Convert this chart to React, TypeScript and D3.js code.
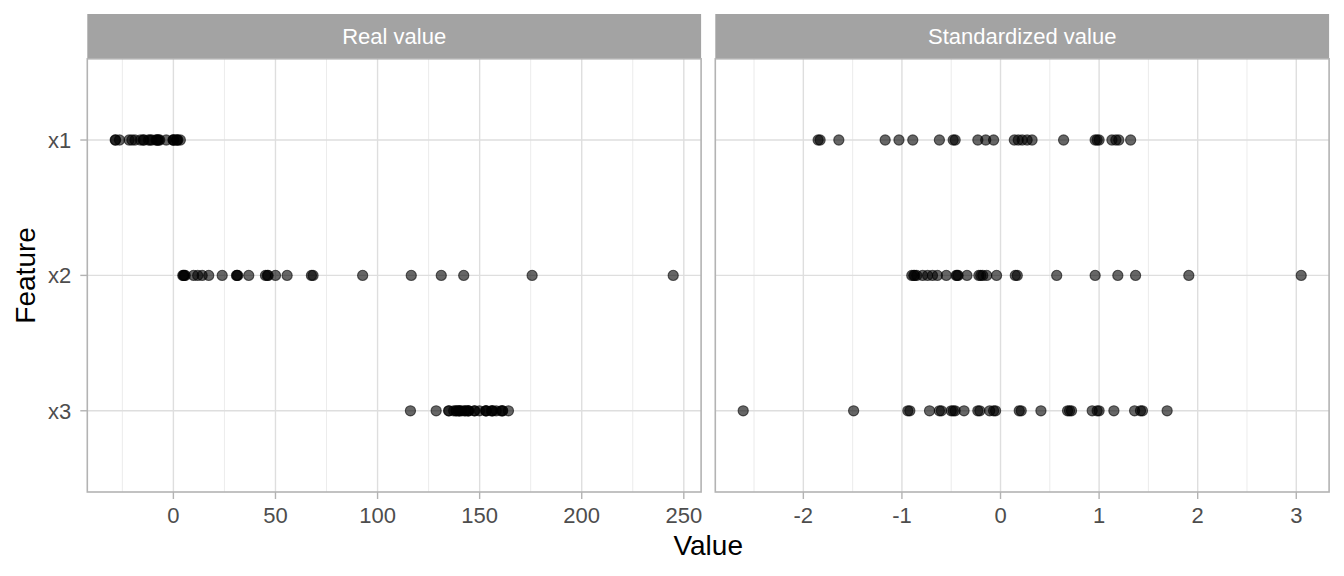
import React from "react";
import * as d3 from "d3";

const features = ["x1", "x2", "x3"];
const panels = ["Real value", "Standardized value"];

const realX1 = [-28.5, -28.3, -26.4, -21.7, -20.3, -18.8, -16.1, -14.7, -14.5, -12.2, -11.4, -10.6, -8.5, -8.1, -7.7, -7.2, -6.7, -3.5, -0.2, 0.0, 0.2, 1.5, 1.9, 2.2, 3.4];
const realX2 = [4.6, 5.0, 5.3, 5.8, 9.9, 11.9, 14.1, 17.3, 23.9, 30.9, 31.2, 31.5, 36.9, 45.1, 46.0, 46.4, 50.0, 55.7, 67.6, 68.4, 92.7, 116.5, 131.2, 142.2, 175.7, 244.8];
const realX3 = [116.1, 128.7, 134.8, 135.0, 137.3, 138.4, 138.6, 139.7, 140.0, 140.2, 141.2, 142.7, 142.9, 144.1, 144.5, 144.7, 147.4, 147.6, 149.9, 152.9, 153.1, 153.3, 155.7, 156.2, 156.4, 158.1, 160.5, 161.1, 161.3, 164.1];

const stdX1 = [-1.85, -1.83, -1.64, -1.17, -1.03, -0.89, -0.62, -0.48, -0.46, -0.23, -0.15, -0.07, 0.14, 0.18, 0.22, 0.27, 0.32, 0.64, 0.96, 0.98, 1.0, 1.13, 1.17, 1.2, 1.32];
const stdX2 = [-0.9, -0.88, -0.87, -0.85, -0.79, -0.74, -0.69, -0.64, -0.55, -0.45, -0.44, -0.43, -0.34, -0.22, -0.2, -0.18, -0.14, -0.04, 0.15, 0.17, 0.57, 0.96, 1.19, 1.37, 1.91, 3.05];
const stdX3 = [-2.61, -1.49, -0.94, -0.92, -0.72, -0.62, -0.6, -0.5, -0.48, -0.46, -0.37, -0.23, -0.21, -0.11, -0.07, -0.05, 0.19, 0.21, 0.41, 0.68, 0.7, 0.72, 0.93, 0.98, 1.0, 1.15, 1.36, 1.42, 1.44, 1.69];

const realTicks = [0, 50, 100, 150, 200, 250];
const stdTicks = [-2, -1, 0, 1, 2, 3];

const W = 1344;
const H = 576;
const panelLeft = [87.3, 715.3];
const panelW = 613.8;
const stripTop = 14;
const panelTop = 58.8;
const panelBottom = 492;
const font = "'Liberation Sans', Arial, sans-serif";

function buildPanel(values: number[][], ticks: number[], idx: number) {
  const all = values.flat();
  const [mn, mx] = d3.extent(all) as [number, number];
  const pad = (mx - mn) * 0.05;
  const x = d3.scaleLinear().domain([mn - pad, mx + pad]).range([panelLeft[idx], panelLeft[idx] + panelW]);
  const step = ticks[1] - ticks[0];
  const minor: number[] = [];
  for (let i = -1; i < ticks.length; i++) {
    const m = (i >= 0 ? ticks[i] : ticks[0] - step) + step / 2;
    if (m > x.domain()[0] && m < x.domain()[1]) minor.push(m);
  }
  return { x, minor };
}

export default function App() {
  const y = d3.scalePoint<string>().domain(features).range([panelTop, panelBottom]).padding(0.6);
  const realSets = [realX1, realX2, realX3];
  const stdSets = [stdX1, stdX2, stdX3];
  const specs = [
    { title: panels[0], sets: realSets, ticks: realTicks, ...buildPanel(realSets, realTicks, 0) },
    { title: panels[1], sets: stdSets, ticks: stdTicks, ...buildPanel(stdSets, stdTicks, 1) },
  ];

  return (
    <svg width={W} height={H} style={{ position: "absolute", left: 0, top: 0 }} fontFamily={font}>
      <rect width={W} height={H} fill="#fff" />
      {specs.map((p, i) => {
        const x0 = panelLeft[i];
        return (
          <g key={p.title}>
            <rect x={x0} y={stripTop} width={panelW} height={panelTop - stripTop} fill="#A3A3A3" />
            <text x={x0 + panelW / 2} y={(stripTop + panelTop) / 2} dy="0.36em" textAnchor="middle" fill="#fff" fontSize={22}>
              {p.title}
            </text>
            {p.minor.map((m) => (
              <line key={"m" + m} x1={p.x(m)} x2={p.x(m)} y1={panelTop} y2={panelBottom} stroke="#E6E6E6" strokeWidth={0.8} />
            ))}
            {p.ticks.map((t) => (
              <line key={"g" + t} x1={p.x(t)} x2={p.x(t)} y1={panelTop} y2={panelBottom} stroke="#DEDEDE" strokeWidth={1.4} />
            ))}
            {features.map((f) => (
              <line key={"h" + f} x1={x0} x2={x0 + panelW} y1={y(f)} y2={y(f)} stroke="#DEDEDE" strokeWidth={1.4} />
            ))}
            {p.sets.map((vals, k) =>
              vals.map((v, j) => (
                <circle key={k + "-" + j} cx={p.x(v)} cy={y(features[k])} r={5.1}
                  fill="rgba(0,0,0,0.6)" stroke="rgba(0,0,0,0.6)" strokeWidth={1.1} />
              ))
            )}
            <rect x={x0} y={panelTop} width={panelW} height={panelBottom - panelTop} fill="none" stroke="#B3B3B3" strokeWidth={1.6} />
            {p.ticks.map((t) => (
              <g key={"t" + t}>
                <line x1={p.x(t)} x2={p.x(t)} y1={panelBottom} y2={panelBottom + 7} stroke="#B3B3B3" strokeWidth={1.4} />
                <text x={p.x(t)} y={panelBottom + 23} dy="0.36em" textAnchor="middle" fill="#4D4D4D" fontSize={22}>
                  {String(t)}
                </text>
              </g>
            ))}
          </g>
        );
      })}
      {features.map((f) => (
        <g key={"y" + f}>
          <line x1={panelLeft[0] - 7} x2={panelLeft[0]} y1={y(f)} y2={y(f)} stroke="#B3B3B3" strokeWidth={1.4} />
          <text x={panelLeft[0] - 16} y={y(f)} dy="0.36em" textAnchor="end" fill="#4D4D4D" fontSize={22}>
            {f}
          </text>
        </g>
      ))}
      <text x={(panelLeft[0] + panelLeft[1] + panelW) / 2} y={555} textAnchor="middle" fill="#000" fontSize={28}>
        Value
      </text>
      <text transform={`translate(35,${(panelTop + panelBottom) / 2}) rotate(-90)`} textAnchor="middle" fill="#000" fontSize={28}>
        Feature
      </text>
    </svg>
  );
}
